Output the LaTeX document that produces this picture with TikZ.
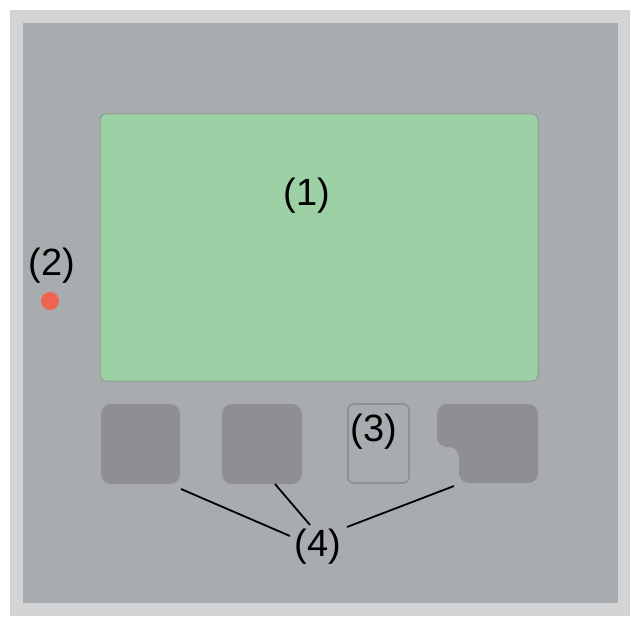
\documentclass[tikz,border=0pt]{standalone}
\usepackage{fontspec}
\setmainfont{Liberation Sans}
\definecolor{frameL}{HTML}{D3D4D6}
\definecolor{panel}{HTML}{A9ACAE}
\definecolor{screen}{HTML}{9ED0A6}
\definecolor{screenline}{HTML}{8E9B93}
\definecolor{btn}{HTML}{8F8E93}
\definecolor{btnline}{HTML}{8E9093}
\definecolor{led}{HTML}{EF6450}
\tikzset{
  lbl/.style={font=\fontsize{38}{44}\selectfont, text=black, inner sep=0pt},
  key/.style={fill=btn, draw=none, rounded corners=10pt},
  leader/.style={draw=black, line width=1.8pt},
}
\begin{document}
\begin{tikzpicture}[x=1pt,y=-1pt]
\useasboundingbox (0,0) rectangle (631,617);
\fill[white] (0,0) rectangle (631,617);
\fill[frameL] (10,10) rectangle (630,616);
\fill[panel] (23,23) rectangle (618,603);
% screen
\draw[fill=screen, draw=screenline, line width=1pt, rounded corners=6pt] (100,114) rectangle (538,381);
\node[lbl] (l1) at (307,196) {(1)};
% LED
\fill[led] (50,301) circle (9);
\node[lbl] (l2) at (52,266) {(2)};
% buttons
\path[key] (101,404) rectangle (180,484);
\path[key] (222,404) rectangle (302,484);
\draw[fill=panel, draw=btnline, line width=1.6pt, rounded corners=6pt] (348,404) rectangle (409,483);
\path[key] (437,404) -- (538,404) -- (538,483) -- (459,483) -- (459,447) -- (437,447) -- cycle;
\node[lbl] (l3) at (374,432) {(3)};
\node[lbl] (l4) at (318,547) {(4)};
% leader ends
\coordinate (b1) at (181,489);
\coordinate (b2) at (275,484);
\coordinate (b4) at (454,486);
\coordinate (e1) at (290,536);
\coordinate (e2) at (310,525);
\coordinate (e4) at (347,527);
\draw[leader] (b1) -- (e1);
\draw[leader] (b2) -- (e2);
\draw[leader] (b4) -- (e4);
\end{tikzpicture}
\end{document}
